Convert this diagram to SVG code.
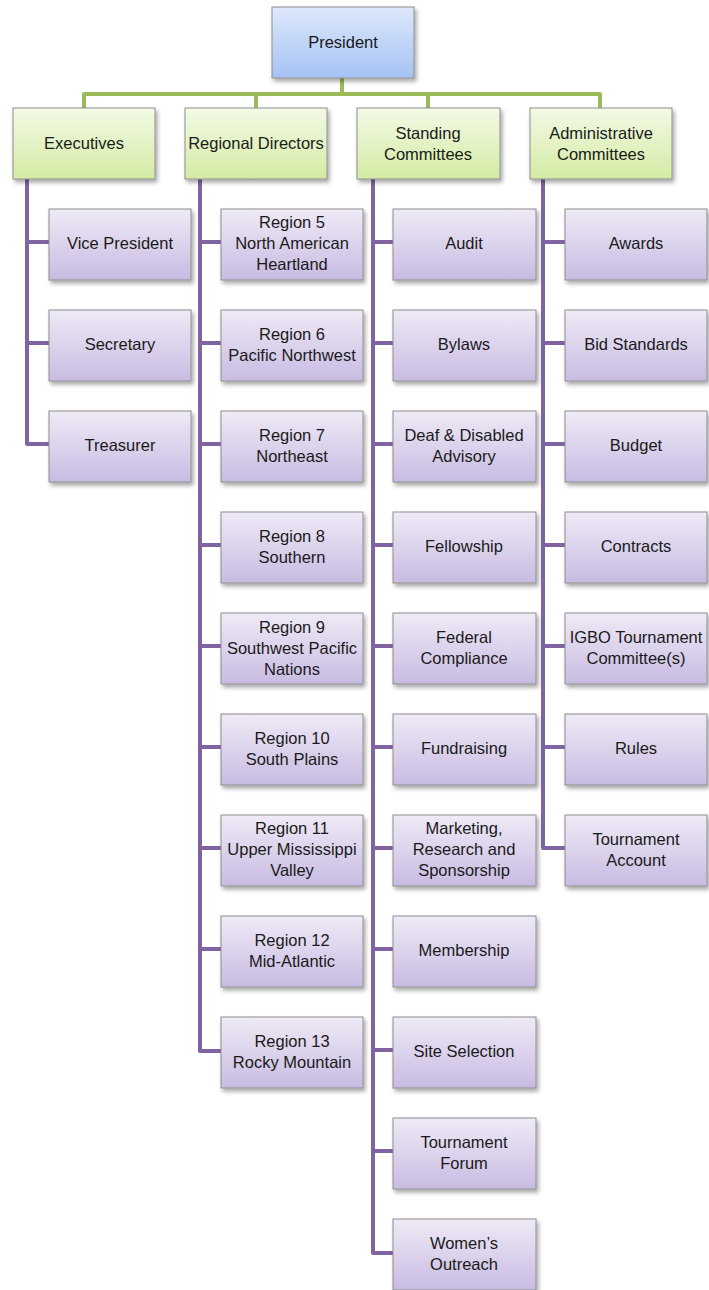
<svg xmlns="http://www.w3.org/2000/svg" width="709" height="1290" viewBox="0 0 709 1290">
<defs>
<linearGradient id="gBlue" x1="0" y1="0" x2="0" y2="1"><stop offset="0" stop-color="#dee8fb"/><stop offset="1" stop-color="#a5c2f5"/></linearGradient>
<linearGradient id="gGreen" x1="0" y1="0" x2="0" y2="1"><stop offset="0" stop-color="#f3fae6"/><stop offset="1" stop-color="#d3eba3"/></linearGradient>
<linearGradient id="gPurple" x1="0" y1="0" x2="0" y2="1"><stop offset="0" stop-color="#efeaf6"/><stop offset="1" stop-color="#c8bbe2"/></linearGradient>
<filter id="sh" x="-10%" y="-10%" width="125%" height="130%"><feDropShadow dx="2" dy="3" stdDeviation="2" flood-color="#000" flood-opacity="0.35"/></filter>
</defs>
<style>
.box{stroke:#8e8e8e;stroke-width:1;filter:url(#sh)}
.b{fill:url(#gBlue)}
.g{fill:url(#gGreen)}
.p{fill:url(#gPurple)}
text{font-family:"Liberation Sans",Arial,sans-serif;font-size:16.5px;fill:#1a1a1a;text-anchor:middle}
.gc{stroke:#9bbb59;stroke-width:4;fill:none;stroke-linejoin:round}
.pc{stroke:#8064a2;stroke-width:4;fill:none;stroke-linejoin:round}
</style>
<g id="connectors">
<path class="gc" d="M342 78V94M84 108V94H600V108M256 94V108M428 94V108"/>
<path class="pc" d="M27 179V444H49M27 242H49M27 343H49"/>
<path class="pc" d="M200 179V1051H221M200 242H221M200 343H221M200 444H221M200 545H221M200 646H221M200 747H221M200 848H221M200 949H221"/>
<path class="pc" d="M373 179V1253H393M373 242H393M373 343H393M373 444H393M373 545H393M373 646H393M373 747H393M373 848H393M373 949H393M373 1050H393M373 1151H393"/>
<path class="pc" d="M543 179V848H565M543 242H565M543 343H565M543 444H565M543 545H565M543 646H565M543 747H565"/>
</g>
<g id="president"><rect class="box b" x="272" y="7" width="142" height="71"/><text x="343" y="48">President</text></g>
<g id="executives"><rect class="box g" x="13" y="108" width="142" height="71"/><text x="84" y="149">Executives</text></g>
<g id="regional-directors"><rect class="box g" x="185" y="108" width="142" height="71"/><text x="256" y="149">Regional Directors</text></g>
<g id="standing-committees"><rect class="box g" x="357" y="108" width="143" height="71"/><text x="428" y="139">Standing</text><text x="428" y="160">Committees</text></g>
<g id="administrative-committees"><rect class="box g" x="530" y="108" width="142" height="71"/><text x="601" y="139">Administrative</text><text x="601" y="160">Committees</text></g>

<g id="vice-president"><rect class="box p" x="49" y="209" width="142" height="71"/><text x="120" y="249">Vice President</text></g>
<g id="secretary"><rect class="box p" x="49" y="310" width="142" height="71"/><text x="120" y="350">Secretary</text></g>
<g id="treasurer"><rect class="box p" x="49" y="411" width="142" height="71"/><text x="120" y="451">Treasurer</text></g>

<g id="region5"><rect class="box p" x="221" y="209" width="142" height="71"/><text x="292" y="228">Region 5</text><text x="292" y="249">North American</text><text x="292" y="270">Heartland</text></g>
<g id="region6"><rect class="box p" x="221" y="310" width="142" height="71"/><text x="292" y="340">Region 6</text><text x="292" y="361">Pacific Northwest</text></g>
<g id="region7"><rect class="box p" x="221" y="411" width="142" height="71"/><text x="292" y="441">Region 7</text><text x="292" y="462">Northeast</text></g>
<g id="region8"><rect class="box p" x="221" y="512" width="142" height="71"/><text x="292" y="542">Region 8</text><text x="292" y="563">Southern</text></g>
<g id="region9"><rect class="box p" x="221" y="613" width="142" height="71"/><text x="292" y="633">Region 9</text><text x="292" y="654">Southwest Pacific</text><text x="292" y="675">Nations</text></g>
<g id="region10"><rect class="box p" x="221" y="714" width="142" height="71"/><text x="292" y="744">Region 10</text><text x="292" y="765">South Plains</text></g>
<g id="region11"><rect class="box p" x="221" y="815" width="142" height="71"/><text x="292" y="834">Region 11</text><text x="292" y="855">Upper Mississippi</text><text x="292" y="876">Valley</text></g>
<g id="region12"><rect class="box p" x="221" y="916" width="142" height="71"/><text x="292" y="946">Region 12</text><text x="292" y="967">Mid-Atlantic</text></g>
<g id="region13"><rect class="box p" x="221" y="1017" width="142" height="71"/><text x="292" y="1047">Region 13</text><text x="292" y="1068">Rocky Mountain</text></g>

<g id="audit"><rect class="box p" x="393" y="209" width="143" height="71"/><text x="464" y="249">Audit</text></g>
<g id="bylaws"><rect class="box p" x="393" y="310" width="143" height="71"/><text x="464" y="350">Bylaws</text></g>
<g id="deaf-disabled"><rect class="box p" x="393" y="411" width="143" height="71"/><text x="464" y="441">Deaf &amp; Disabled</text><text x="464" y="462">Advisory</text></g>
<g id="fellowship"><rect class="box p" x="393" y="512" width="143" height="71"/><text x="464" y="552">Fellowship</text></g>
<g id="federal-compliance"><rect class="box p" x="393" y="613" width="143" height="71"/><text x="464" y="643">Federal</text><text x="464" y="664">Compliance</text></g>
<g id="fundraising"><rect class="box p" x="393" y="714" width="143" height="71"/><text x="464" y="754">Fundraising</text></g>
<g id="marketing"><rect class="box p" x="393" y="815" width="143" height="71"/><text x="464" y="834">Marketing,</text><text x="464" y="855">Research and</text><text x="464" y="876">Sponsorship</text></g>
<g id="membership"><rect class="box p" x="393" y="916" width="143" height="71"/><text x="464" y="956">Membership</text></g>
<g id="site-selection"><rect class="box p" x="393" y="1017" width="143" height="71"/><text x="464" y="1057">Site Selection</text></g>
<g id="tournament-forum"><rect class="box p" x="393" y="1118" width="143" height="71"/><text x="464" y="1148">Tournament</text><text x="464" y="1169">Forum</text></g>
<g id="womens-outreach"><rect class="box p" x="393" y="1219" width="143" height="71"/><text x="464" y="1249">Women’s</text><text x="464" y="1270">Outreach</text></g>

<g id="awards"><rect class="box p" x="565" y="209" width="142" height="71"/><text x="636" y="249">Awards</text></g>
<g id="bid-standards"><rect class="box p" x="565" y="310" width="142" height="71"/><text x="636" y="350">Bid Standards</text></g>
<g id="budget"><rect class="box p" x="565" y="411" width="142" height="71"/><text x="636" y="451">Budget</text></g>
<g id="contracts"><rect class="box p" x="565" y="512" width="142" height="71"/><text x="636" y="552">Contracts</text></g>
<g id="igbo-tournament"><rect class="box p" x="565" y="613" width="142" height="71"/><text x="636" y="643">IGBO Tournament</text><text x="636" y="664">Committee(s)</text></g>
<g id="rules"><rect class="box p" x="565" y="714" width="142" height="71"/><text x="636" y="754">Rules</text></g>
<g id="tournament-account"><rect class="box p" x="565" y="815" width="142" height="71"/><text x="636" y="845">Tournament</text><text x="636" y="866">Account</text></g>
</svg>
